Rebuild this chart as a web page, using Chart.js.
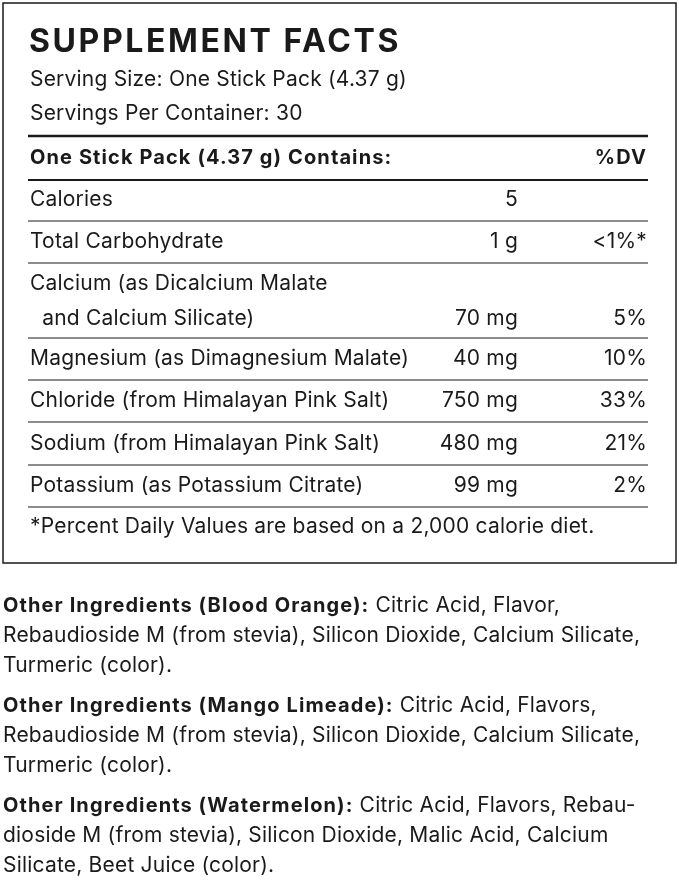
<!DOCTYPE html>
<html><head><meta charset="utf-8">
<script src="https://cdn.jsdelivr.net/npm/chart.js@4"></script>
<style>html,body{margin:0;padding:0;background:#fff}canvas{display:block}</style>
</head><body>
<canvas id="c" width="679" height="883"></canvas>
<script>
const title = "SUPPLEMENT FACTS";
const servingLines = ["Serving Size: One Stick Pack (4.37 g)", "Servings Per Container: 30"];
const headerCols = ["One Stick Pack (4.37 g) Contains:", "%DV"];
const nutrients = [["Calories"], ["Total Carbohydrate"], ["Calcium (as Dicalcium Malate", "  and Calcium Silicate)"], ["Magnesium (as Dimagnesium Malate)"], ["Chloride (from Himalayan Pink Salt)"], ["Sodium (from Himalayan Pink Salt)"], ["Potassium (as Potassium Citrate)"]];
const amounts = ["5", "1 g", "70 mg", "40 mg", "750 mg", "480 mg", "99 mg"];
const dvs = ["", "<1%*", "5%", "10%", "33%", "21%", "2%"];
const footnote = "*Percent Daily Values are based on a 2,000 calorie diet.";
const ingredients = [
  [["Other Ingredients (Blood Orange):", " Citric Acid, Flavor,"], ["", "Rebaudioside M (from stevia), Silicon Dioxide, Calcium Silicate,"], ["", "Turmeric (color)."]],
  [["Other Ingredients (Mango Limeade):", " Citric Acid, Flavors,"], ["", "Rebaudioside M (from stevia), Silicon Dioxide, Calcium Silicate,"], ["", "Turmeric (color)."]],
  [["Other Ingredients (Watermelon):", " Citric Acid, Flavors, Rebau-"], ["", "dioside M (from stevia), Silicon Dioxide, Malic Acid, Calcium"], ["", "Silicate, Beet Juice (color)."]]
];

// layout (page units)
const rowY = [200, 242, 284, 359, 401, 444, 486];
const sepY = [221, 263, 338, 380, 422, 465, 507];
const ingY = [606, 706, 806];
const FF = "Inter, 'Open Sans', sans-serif";

const labelPlugin = {
  id: 'label',
  afterDraw(chart) {
    const ctx = chart.ctx, X = v => chart.scales.x.getPixelForValue(v), Y = v => chart.scales.y.getPixelForValue(v);
    const ls = v => { if ('letterSpacing' in ctx) ctx.letterSpacing = v + 'px'; };
    ctx.save();
    ctx.fillStyle = '#1a1a1a'; ctx.strokeStyle = '#1a1a1a';
    ctx.textBaseline = 'middle';
    ctx.lineWidth = 1.5; ctx.strokeRect(X(3), Y(3), X(676) - X(3), Y(563) - Y(3));
    ctx.font = "bold 32px " + FF; ctx.textAlign = 'left'; ls(2.6);
    ctx.fillText(title, X(29), Y(42));
    ctx.font = "21px " + FF; ls(0.2);
    ctx.fillText(servingLines[0], X(30), Y(80));
    ctx.fillText(servingLines[1], X(30), Y(114));
    ctx.lineWidth = 2.5; ctx.beginPath(); ctx.moveTo(X(28), Y(136)); ctx.lineTo(X(648), Y(136)); ctx.stroke();
    ctx.font = "bold 20px " + FF; ls(1.1);
    ctx.fillText(headerCols[0], X(30), Y(158));
    ctx.textAlign = 'right'; ctx.fillText(headerCols[1], X(647), Y(158));
    ctx.lineWidth = 2; ctx.beginPath(); ctx.moveTo(X(28), Y(180)); ctx.lineTo(X(648), Y(180)); ctx.stroke();
    ctx.font = "21px " + FF; ls(0.2);
    nutrients.forEach((n, i) => {
      ctx.textAlign = 'left';
      n.forEach((t, k) => ctx.fillText(t, X(30), Y(rowY[i] + k * 35)));
      const y = Y(rowY[i] + (n.length - 1) * 35);
      ctx.textAlign = 'right';
      ctx.fillText(amounts[i], X(518), y);
      ctx.fillText(dvs[i], X(647), y);
    });
    ctx.lineWidth = 1;
    sepY.forEach(s => { ctx.beginPath(); ctx.moveTo(X(28), Y(s)); ctx.lineTo(X(648), Y(s)); ctx.stroke(); });
    ctx.textAlign = 'left';
    ctx.fillText(footnote, X(30), Y(527));
    ingredients.forEach((para, p) => {
      para.forEach((ln, k) => {
        const y = Y(ingY[p] + k * 30);
        ctx.font = "bold 20px " + FF; ls(1.1); ctx.fillText(ln[0], X(3), y);
        const w = ctx.measureText(ln[0]).width;
        ctx.font = "21px " + FF; ls(0.2); ctx.fillText(ln[1], X(3) + w, y);
      });
    });
    ctx.restore();
  }
};

new Chart(document.getElementById('c'), {
  type: 'scatter',
  data: { datasets: [{ data: [] }] },
  options: {
    responsive: false, animation: false,
    layout: { padding: 0 },
    plugins: { legend: { display: false }, tooltip: { enabled: false } },
    scales: {
      x: { display: false, min: 0, max: 679 },
      y: { display: false, min: 0, max: 883, reverse: true }
    }
  },
  plugins: [labelPlugin]
});
</script>
</body></html>
